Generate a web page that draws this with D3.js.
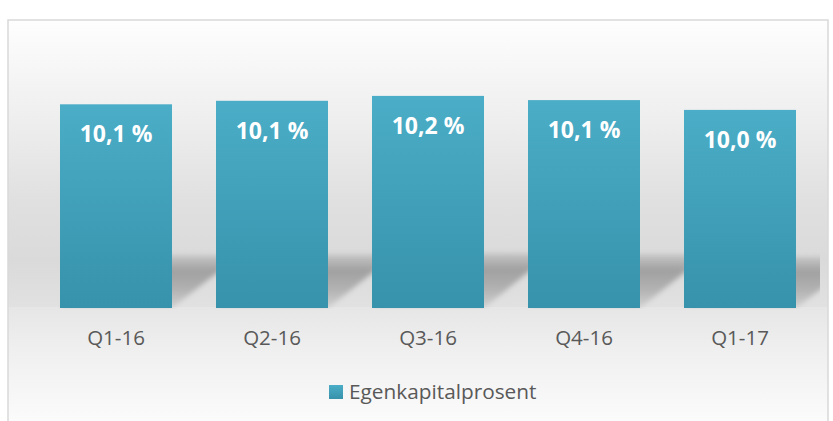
<!DOCTYPE html>
<html>
<meta charset="utf-8">
<style>
body { margin: 0; background: #fff; }
text { font-family: "Open Sans", Arial, sans-serif; }
</style>
<body>
<script src="https://d3js.org/d3.v7.min.js"></script>
<script>
var quarters = ["Q1-16", "Q2-16", "Q3-16", "Q4-16", "Q1-17"];
var egenkapital = [10.08, 10.13, 10.2, 10.14, 10.0];
var seriesName = "Egenkapitalprosent";

var width = 833, height = 421;
var plot = {left: 38, right: 818, top: 63, base: 308};

var svg = d3.select("body").append("svg")
	.attr("width", width)
	.attr("height", height);

var defs = svg.append("defs");

var bg = defs.append("linearGradient")
	.attr("id", "bg")
	.attr("gradientUnits", "userSpaceOnUse")
	.attr("x1", 0).attr("y1", 20).attr("x2", 0).attr("y2", height);
[[0, "#fefefe"], [0.25, "#eeeeee"], [0.45, "#e0e0e0"], [0.6, "#dadada"], [0.715, "#e1e1e1"],
 [0.716, "#e6e6e6"], [0.82, "#efefef"], [1, "#fbfbfb"]].forEach(function(s) {
	bg.append("stop").attr("offset", s[0]).attr("stop-color", s[1]);
});

var barGrad = defs.append("linearGradient")
	.attr("id", "barGrad")
	.attr("x1", 0).attr("y1", 0).attr("x2", 0).attr("y2", 1);
barGrad.append("stop").attr("offset", 0).attr("stop-color", "#4badc7");
barGrad.append("stop").attr("offset", 1).attr("stop-color", "#3792ab");

var shGrad = defs.append("linearGradient")
	.attr("id", "shGrad")
	.attr("x1", 0).attr("y1", 0).attr("x2", 0).attr("y2", 1);
shGrad.append("stop").attr("offset", 0).attr("stop-color", "#000").attr("stop-opacity", 0.08);
shGrad.append("stop").attr("offset", 0.3).attr("stop-color", "#000").attr("stop-opacity", 0.27);
shGrad.append("stop").attr("offset", 0.65).attr("stop-color", "#000").attr("stop-opacity", 0.2);
shGrad.append("stop").attr("offset", 1).attr("stop-color", "#000").attr("stop-opacity", 0.07);

defs.append("filter").attr("id", "blur")
	.attr("x", "-20%").attr("y", "-20%").attr("width", "140%").attr("height", "140%")
	.append("feGaussianBlur").attr("stdDeviation", 2.5);

defs.append("clipPath").attr("id", "plotClip")
	.append("rect")
	.attr("x", plot.left).attr("y", 0)
	.attr("width", plot.right + 2 - plot.left).attr("height", plot.base + 1);

// chart area
svg.append("rect")
	.attr("x", 8).attr("y", 20)
	.attr("width", 820).attr("height", height)
	.attr("fill", "url(#bg)")
	.attr("stroke", "#d9d9d9")
	.attr("stroke-width", 1.5);

var x = d3.scaleBand()
	.domain(quarters)
	.range([plot.left, plot.right])
	.paddingInner(0.282)
	.paddingOuter(0.141);

var y = d3.scaleLinear()
	.domain([7.17, 10.67])
	.range([plot.base, plot.top]);

var data = quarters.map(function(q, i) { return {q: q, v: egenkapital[i]}; });

// cast shadows
var skew = 68;
svg.append("g")
	.attr("clip-path", "url(#plotClip)")
	.selectAll("polygon")
	.data(data)
	.join("polygon")
	.attr("fill", "url(#shGrad)")
	.attr("filter", "url(#blur)")
	.attr("points", function(d) {
		var x0 = x(d.q), x1 = x0 + x.bandwidth();
		var b = y(y.domain()[0]);
		var t = b - 0.26 * (b - y(d.v));
		return [[x0, b], [x1, b], [x1 + skew, t], [x0 + skew, t]].join(" ");
	});

svg.append("g")
	.selectAll("rect")
	.data(data)
	.join("rect")
	.attr("x", function(d) { return x(d.q); })
	.attr("y", function(d) { return y(d.v); })
	.attr("width", x.bandwidth())
	.attr("height", function(d) { return y(y.domain()[0]) - y(d.v); })
	.attr("fill", "url(#barGrad)");

var fmt = d3.format(".1f");
svg.append("g")
	.selectAll("text")
	.data(data)
	.join("text")
	.attr("x", function(d) { return x(d.q) + x.bandwidth() / 2; })
	.attr("y", function(d) { return y(d.v) + 38; })
	.attr("text-anchor", "middle")
	.attr("font-size", "23px")
	.attr("font-weight", "bold")
	.attr("fill", "#fff")
	.text(function(d) { return fmt(d.v).replace(".", ",") + " %"; });

// category axis
var xAxis = svg.append("g")
	.attr("transform", "translate(0," + plot.base + ")")
	.call(d3.axisBottom(x).tickSize(0).tickPadding(37));
xAxis.select(".domain").remove();
xAxis.selectAll("text")
	.attr("font-family", "Open Sans")
	.attr("font-size", "20.5px")
	.attr("fill", "#595959")
	.attr("dy", 0);

// legend
var legend = svg.append("g").attr("transform", "translate(329,385)");
legend.append("rect")
	.attr("width", 14).attr("height", 14)
	.attr("fill", "url(#barGrad)");
legend.append("text")
	.attr("x", 20).attr("y", 14)
	.attr("font-size", "20.8px")
	.attr("fill", "#595959")
	.text(seriesName);
</script>
</body>
</html>
